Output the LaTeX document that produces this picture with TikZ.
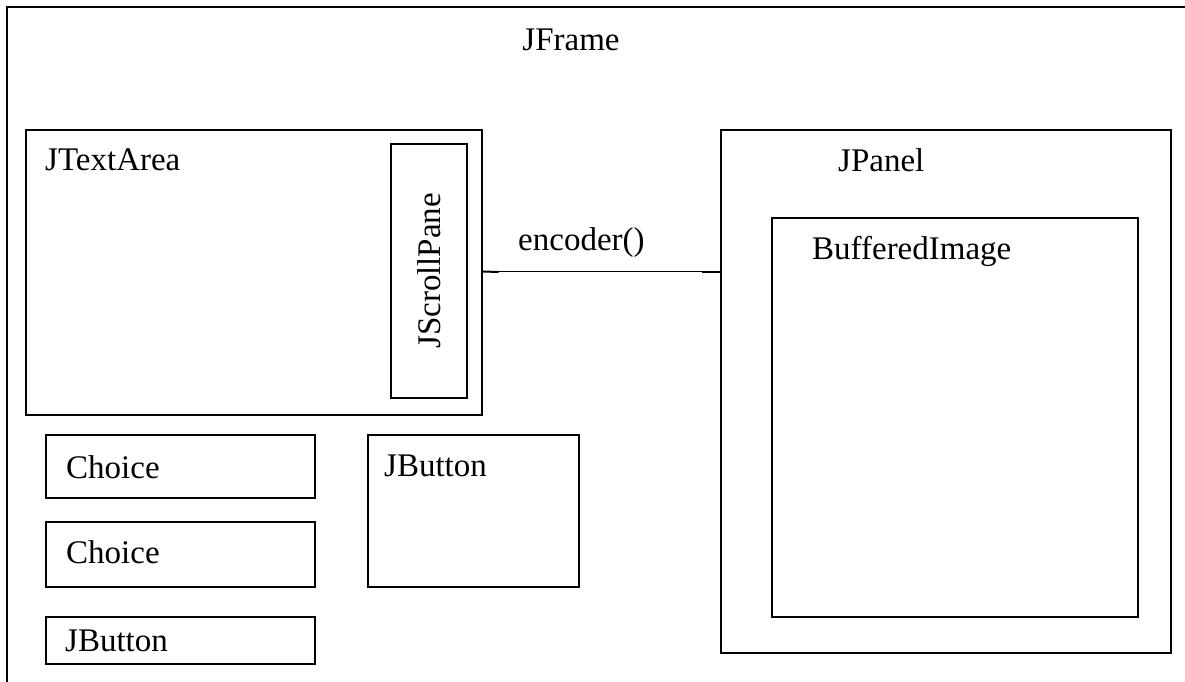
\documentclass[tikz,border=0pt]{standalone}
\usepackage{fontspec}
\setmainfont{Liberation Serif}
\begin{document}
\begin{tikzpicture}[x=1pt,y=-1pt,
  box/.style={draw=black, line width=1.6pt, anchor=north west, inner sep=0pt},
  lbl/.style={anchor=base west, inner sep=0pt, font=\fontsize{33}{38}\selectfont},
  stub/.style={line width=2pt},
  link/.style={line width=0.9pt}]
  \useasboundingbox (0,0) rectangle (1185,682);

  % outer window, running off the right and bottom edges
  \draw[line width=1.8pt] (7,690) -- (7,7) -- (1195,7);
  \node[lbl, anchor=base] (frame) at (571,51) {JFrame};

  % text area with its scroll pane
  \node[box, minimum width=456pt, minimum height=285pt] (jta) at (25,129) {};
  \node[lbl] (jtal) at (45,170) {JTextArea};
  \node[box, minimum width=76pt, minimum height=254pt] (jsp) at (390,143) {};
  \node[lbl, anchor=center, rotate=90] (jspl) at (jsp.center) {JScrollPane};

  % panel holding the image
  \node[box, minimum width=450pt, minimum height=523pt] (jp) at (720,129) {};
  \node[lbl] (jpl) at (838,171) {JPanel};
  \node[box, minimum width=366pt, minimum height=399pt] (bi) at (771,217) {};
  \node[lbl] (bil) at (812,259) {BufferedImage};

  % controls
  \node[box, minimum width=269pt, minimum height=63pt] (ch1) at (45,434) {};
  \node[lbl] (ch1l) at (66,478) {Choice};
  \node[box, minimum width=269pt, minimum height=65pt] (ch2) at (45,521) {};
  \node[lbl] (ch2l) at (66,563) {Choice};
  \node[box, minimum width=269pt, minimum height=47pt] (jb2) at (45,616) {};
  \node[lbl] (jb2l) at (65,651) {JButton};
  \node[box, minimum width=211pt, minimum height=152pt] (jb1) at (367,434) {};
  \node[lbl] (jb1l) at (384,476) {JButton};

  % encoder link between text area and panel, with short heavier ends
  \coordinate (la) at (jta.east |- 0,271.5);
  \coordinate (lb) at (jp.west |- 0,271.5);
  \draw[link] (la) -- (lb);
  \draw[stub] (la) -- ++(16,0.5);
  \draw[stub] (lb) -- ++(-18,0);
  \node[lbl] (enc) at (518,250) {encoder()};
\end{tikzpicture}
\end{document}
